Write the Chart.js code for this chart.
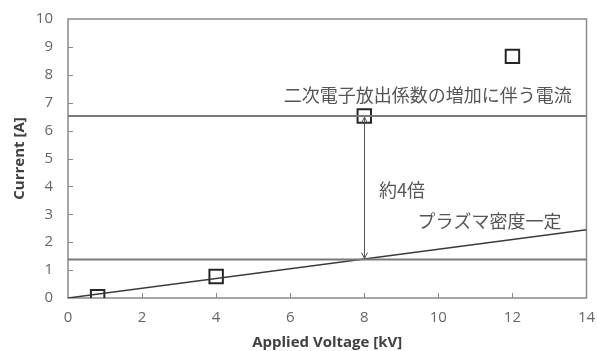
<!DOCTYPE html>
<html>
<head>
<meta charset="utf-8">
<script src="https://cdn.jsdelivr.net/npm/chart.js@4"></script>
<style>
  html, body { margin: 0; padding: 0; background: #fff; }
  #wrap { width: 598px; height: 351px; position: relative; }
</style>
</head>
<body>
<div id="wrap"><canvas id="c" width="598" height="351"></canvas></div>
<script>
// Measured current vs. applied voltage
const voltage = [0.8, 4, 8, 12];
const current = [0.05, 0.77, 6.52, 8.66];

// Constant plasma density trend line (end points)
const trendVoltage = [0, 14];
const trendCurrent = [0, 2.45];

// Reference current levels
const secondaryLevel = 6.52;
const baseLevel = 1.38;
const arrowVoltage = 8;

// Axis ticks
const xTicks = [0, 2, 4, 6, 8, 10, 12, 14];
const yTicks = [0, 1, 2, 3, 4, 5, 6, 7, 8, 9, 10];

// Annotation texts
const labelSecondary = '二次電子放出係数の増加に伴う電流';
const labelRatio = '約4倍';
const labelDensity = 'プラズマ密度一定';

const points = voltage.map((v, i) => ({ x: v, y: current[i] }));
const trend = trendVoltage.map((v, i) => ({ x: v, y: trendCurrent[i] }));
const levelLine = (lvl) => [{ x: xTicks[0], y: lvl }, { x: xTicks[xTicks.length - 1], y: lvl }];

const jpFont = '18px "Noto Sans CJK JP", sans-serif';
const notes = [
  { text: labelSecondary, x: 13.6, y: 7.26, align: 'right' },
  { text: labelRatio, x: 8.4, y: 3.87, align: 'left' },
  { text: labelDensity, x: 9.44, y: 2.76, align: 'left' }
];

const decorations = {
  id: 'decorations',
  beforeDatasetsDraw(chart) {
    const { ctx, chartArea: a, scales: { x, y } } = chart;
    ctx.save();
    ctx.strokeStyle = '#8a8a8a';
    ctx.lineWidth = 1.5;
    ctx.strokeRect(a.left, a.top, a.right - a.left, a.bottom - a.top);
    // inward tick marks
    ctx.lineWidth = 1;
    ctx.beginPath();
    xTicks.slice(1, -1).forEach(v => {
      const px = Math.round(x.getPixelForValue(v)) + 0.5;
      ctx.moveTo(px, a.bottom);
      ctx.lineTo(px, a.bottom - 5);
    });
    yTicks.slice(1, -1).forEach(v => {
      const py = Math.round(y.getPixelForValue(v)) + 0.5;
      ctx.moveTo(a.left, py);
      ctx.lineTo(a.left + 5, py);
    });
    ctx.stroke();
    ctx.restore();
  },
  afterDatasetsDraw(chart) {
    const { ctx, scales: { x, y } } = chart;
    ctx.save();
    // double-headed arrow between the two current levels
    const ax = Math.round(x.getPixelForValue(arrowVoltage)) + 0.5;
    const y1 = y.getPixelForValue(secondaryLevel) + 1;
    const y2 = y.getPixelForValue(baseLevel) - 1;
    ctx.strokeStyle = '#555';
    ctx.lineWidth = 1;
    ctx.beginPath();
    ctx.moveTo(ax, y1);
    ctx.lineTo(ax, y2);
    ctx.moveTo(ax - 3, y1 + 6);
    ctx.lineTo(ax, y1);
    ctx.lineTo(ax + 3, y1 + 6);
    ctx.moveTo(ax - 3, y2 - 6);
    ctx.lineTo(ax, y2);
    ctx.lineTo(ax + 3, y2 - 6);
    ctx.stroke();
    // text notes
    ctx.fillStyle = '#555';
    ctx.font = jpFont;
    ctx.textBaseline = 'middle';
    notes.forEach(n => {
      ctx.textAlign = n.align;
      ctx.fillText(n.text, x.getPixelForValue(n.x), y.getPixelForValue(n.y));
    });
    ctx.restore();
  }
};

const tickFont = { family: '"Open Sans", Lato, sans-serif', size: 15 };
const titleFont = { family: '"Open Sans", Lato, sans-serif', size: 15, weight: 'bold' };

new Chart(document.getElementById('c'), {
  type: 'scatter',
  data: {
    datasets: [
      {
        data: levelLine(secondaryLevel), showLine: true, pointRadius: 0,
        borderColor: '#7a7a7a', borderWidth: 2
      },
      {
        data: levelLine(baseLevel), showLine: true, pointRadius: 0,
        borderColor: '#7a7a7a', borderWidth: 2
      },
      {
        data: trend, showLine: true, pointRadius: 0,
        borderColor: '#3a3a3a', borderWidth: 1.5
      },
      {
        data: points, showLine: false, pointStyle: 'rect', pointRadius: 9.5,
        pointBorderColor: '#262626', pointBackgroundColor: 'rgba(0,0,0,0)',
        pointBorderWidth: 2
      }
    ]
  },
  options: {
    responsive: false,
    animation: false,
    events: [],
    layout: { padding: { top: 19, right: 7, bottom: 0, left: 0 } },
    plugins: { legend: { display: false }, tooltip: { enabled: false } },
    scales: {
      x: {
        type: 'linear', min: 0, max: 14,
        afterBuildTicks: s => { s.ticks = xTicks.map(v => ({ value: v })); },
        afterFit: s => { s.height = 53; s.paddingLeft = 0; s.paddingRight = 0; },
        grid: { display: false, drawTicks: false },
        border: { display: false },
        ticks: { color: '#666', font: tickFont, padding: 11, maxRotation: 0 },
        title: { display: true, text: 'Applied Voltage [kV]', color: '#404040', font: titleFont, padding: { top: 0, bottom: -1 } }
      },
      y: {
        type: 'linear', min: 0, max: 10,
        afterBuildTicks: s => { s.ticks = yTicks.map(v => ({ value: v })); },
        afterFit: s => { s.width = 68; s.paddingTop = 0; s.paddingBottom = 0; },
        grid: { display: false, drawTicks: false },
        border: { display: false },
        ticks: { color: '#666', font: tickFont, padding: 15 },
        title: { display: true, text: 'Current [A]', color: '#404040', font: titleFont, padding: { top: 11, bottom: 0 } }
      }
    }
  },
  plugins: [decorations]
});
</script>
</body>
</html>
